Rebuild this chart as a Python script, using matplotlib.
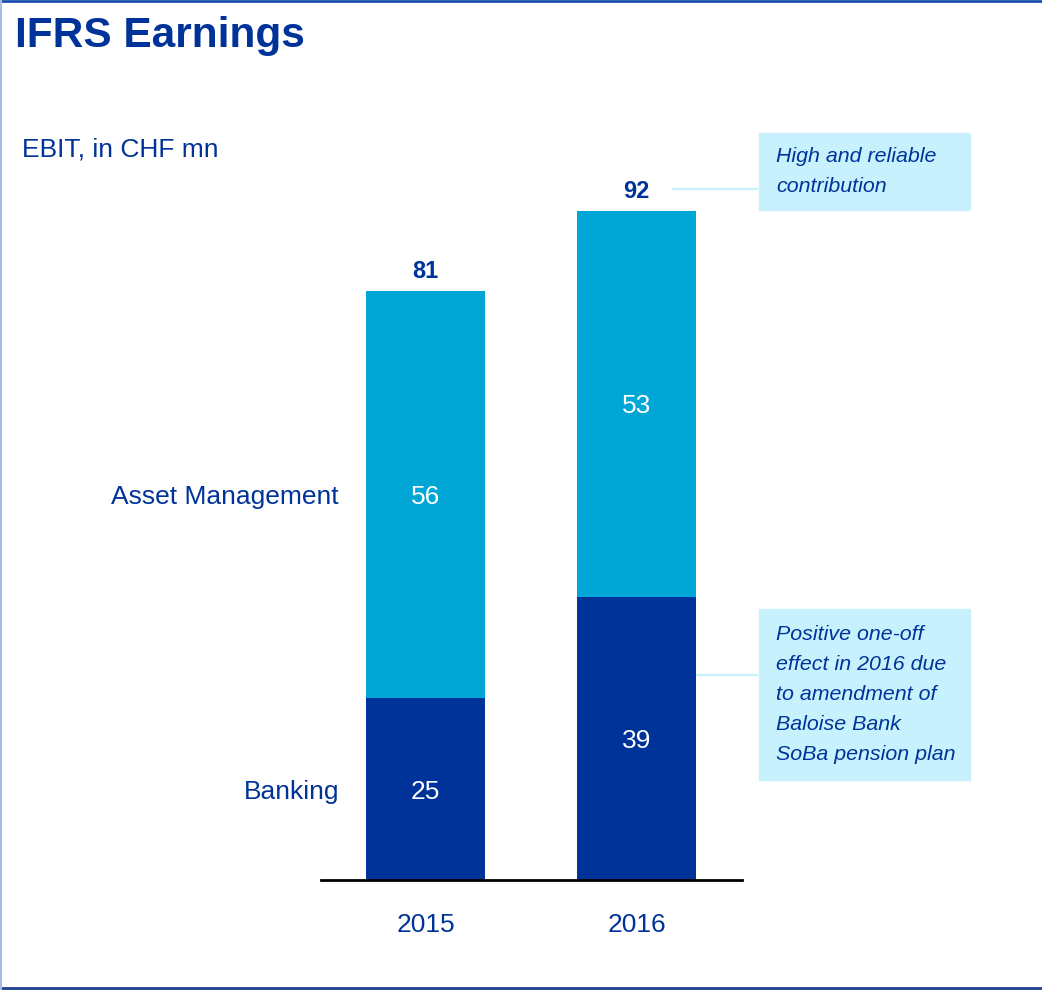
import matplotlib
matplotlib.use("Agg")
from matplotlib import pyplot as plt
from matplotlib.patches import Rectangle
from matplotlib.lines import Line2D

plt.rcParams["font.family"] = ["Liberation Sans", "DejaVu Sans"]

#+++++ data
years = ["2015", "2016"]
banking = [25, 39]
asset_mgmt = [56, 53]
totals = [b + a for b, a in zip(banking, asset_mgmt)]
segments = ["Banking", "Asset Management"]
note_top = "High and reliable\ncontribution"
note_bottom = "Positive one-off\neffect in 2016 due\nto amendment of\nBaloise Bank\nSoBa pension plan"
#-----

dark = "#003399"
light = "#00A6D6"
txt = "#003399"
boxc = "#C6F1FD"

W, H = 1042, 990
fig = plt.figure(figsize=(W/100, H/100), dpi=100)


def fx(x):
    return x / W


def fy(y):
    return 1 - y / H


# plot area in pixels: x 321..742, baseline y 880, top y 130
ax = fig.add_axes([fx(321), fy(880), fx(742) - fx(321), (880 - 130) / H])
xs = [0, 1]
width = 0.56
ax.bar(xs, banking, width=width, color=dark)
ax.bar(xs, asset_mgmt, width=width, bottom=banking, color=light)
ax.set_xlim(-0.495, 1.5)
ax.set_ylim(0, 103.2)

for x, b, a, t in zip(xs, banking, asset_mgmt, totals):
    ax.text(x, b / 2, str(b), ha="center", va="center_baseline", color="white", fontsize=19)
    ax.text(x, b + a / 2, str(a), ha="center", va="center_baseline", color="white", fontsize=19)
    ax.text(x, t + 1.2, str(t), ha="center", va="bottom", color=txt,
            fontsize=17, fontweight="bold")

# segment labels left of first bar
ax.text(-0.41, banking[0] / 2, segments[0], ha="right", va="center_baseline",
        color=txt, fontsize=19)
ax.text(-0.41, banking[0] + asset_mgmt[0] / 2, segments[1], ha="right",
        va="center_baseline", color=txt, fontsize=19)

ax.set_xticks(xs)
ax.set_xticklabels(years, fontsize=19, color=txt)
ax.tick_params(axis="x", length=0, pad=24)
ax.set_yticks([])
for s in ["top", "right", "left"]:
    ax.spines[s].set_visible(False)
ax.spines["bottom"].set_linewidth(2)
ax.spines["bottom"].set_color("black")
ax.patch.set_alpha(0)

# titles
fig.text(fx(15), fy(36), "IFRS Earnings", fontsize=30.5, fontweight="bold",
         color=txt, va="center", ha="left")
fig.text(fx(22), fy(149), "EBIT, in CHF mn", fontsize=19, color=txt,
         va="center", ha="left")

# annotation boxes
for (x0, y0, x1, y1), note, (lx0, ly) in [
    ((759, 133, 970, 210), note_top, (673, 189)),
    ((759, 609, 970, 780), note_bottom, (697, 675)),
]:
    fig.patches.append(Rectangle((fx(x0), fy(y1)), fx(x1) - fx(x0), (y1 - y0) / H,
                                 transform=fig.transFigure, color=boxc, zorder=1))
    fig.text(fx(776), fy((y0 + y1) / 2), note, fontsize=15.4, style="italic",
             color=txt, ha="left", va="center", linespacing=1.75, zorder=2)
    fig.lines.append(Line2D([fx(lx0), fx(757)], [fy(ly), fy(ly)],
                            transform=fig.transFigure, color=boxc, lw=1.5))

# slide frame
fig.lines.append(Line2D([0, 1], [fy(1), fy(1)], transform=fig.transFigure,
                        color="#1F4FB0", lw=2))
fig.lines.append(Line2D([0, 1], [fy(988), fy(988)], transform=fig.transFigure,
                        color="#1F3F90", lw=2))
fig.lines.append(Line2D([fx(1), fx(1)], [0, 1], transform=fig.transFigure,
                        color="#A8BDE6", lw=1.5))

fig.savefig("out.png", dpi=100)
